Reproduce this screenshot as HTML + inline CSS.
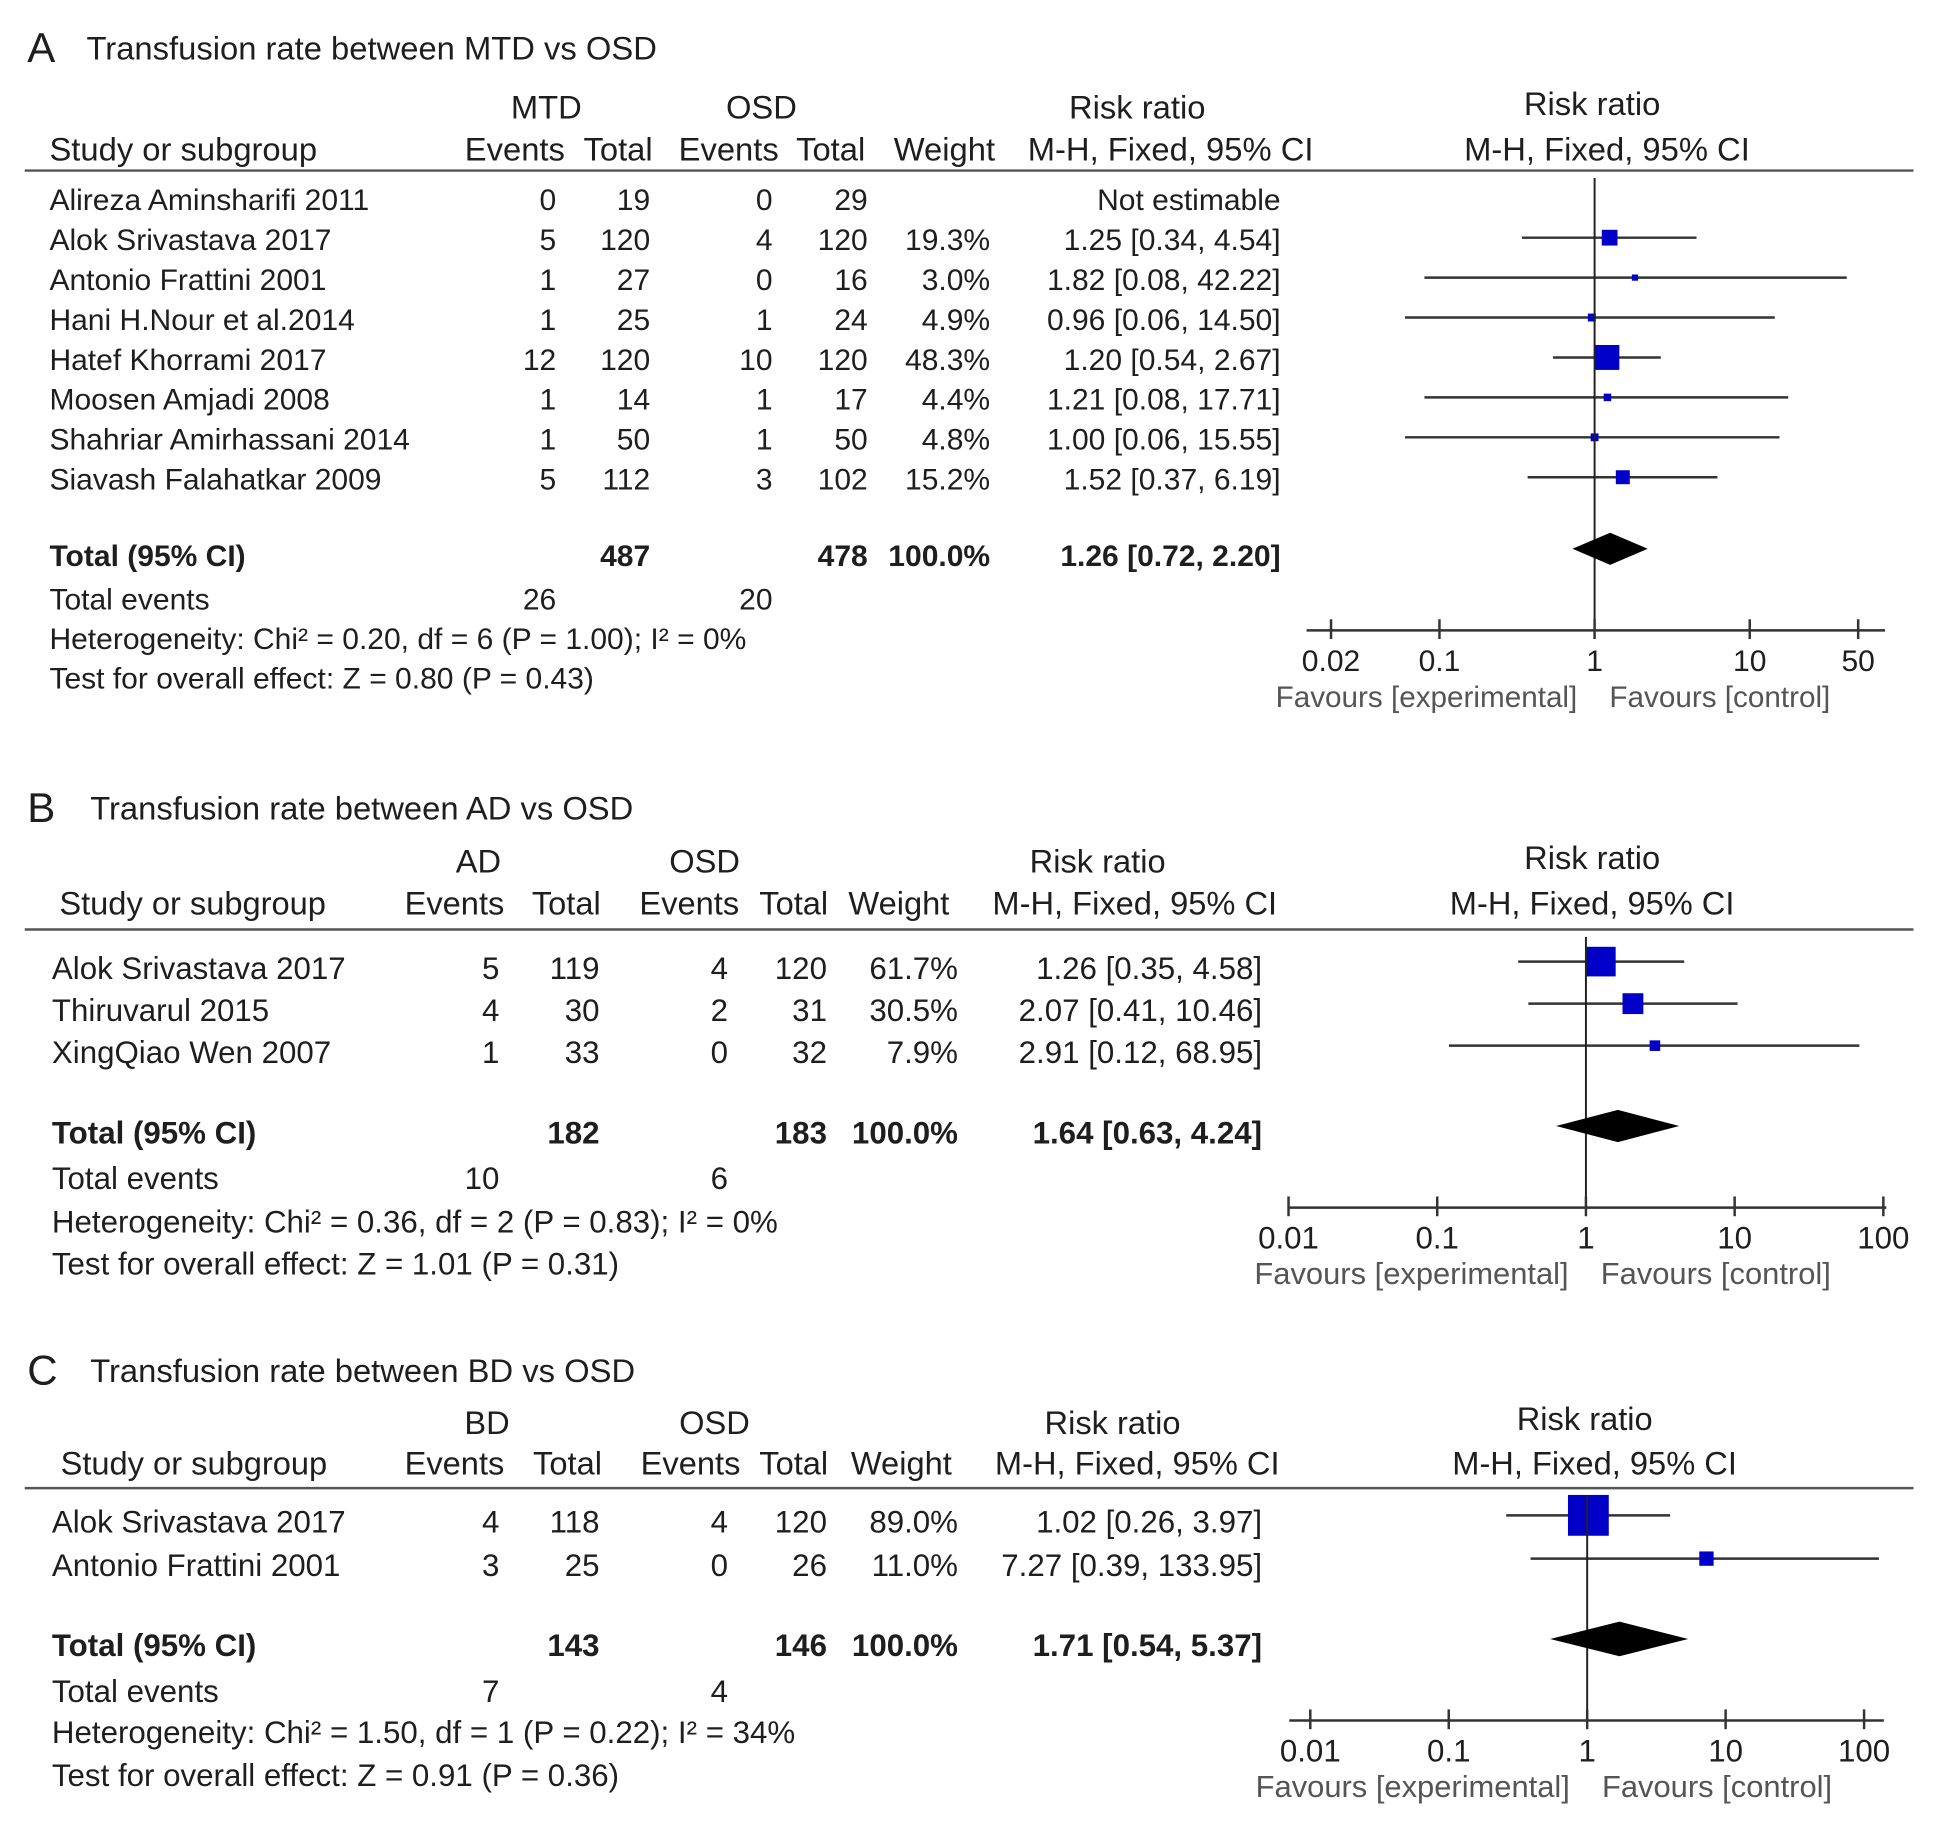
<!DOCTYPE html>
<html><head><meta charset="utf-8"><style>
html,body{margin:0;padding:0;background:#fff;}
svg{display:block;font-family:"Liberation Sans",Arial,sans-serif;}
</style></head><body>
<svg id="fig" xmlns="http://www.w3.org/2000/svg" width="1937" height="1833" viewBox="0 0 1567 1483" preserveAspectRatio="none"></svg>
<script>
// ---- Panel A data ----
const namesA = ["Alireza Aminsharifi 2011","Alok Srivastava 2017","Antonio Frattini 2001","Hani H.Nour et al.2014","Hatef Khorrami 2017","Moosen Amjadi 2008","Shahriar Amirhassani 2014","Siavash Falahatkar 2009"];
const evExpA = [0,5,1,1,12,1,1,5];
const totExpA = [19,120,27,25,120,14,50,112];
const evCtlA = [0,4,0,1,10,1,1,3];
const totCtlA = [29,120,16,24,120,17,50,102];
const weightA = [null,19.3,3.0,4.9,48.3,4.4,4.8,15.2];
const rrA = [null,1.25,1.82,0.96,1.20,1.21,1.00,1.52];
const loA = [null,0.34,0.08,0.06,0.54,0.08,0.06,0.37];
const hiA = [null,4.54,42.22,14.50,2.67,17.71,15.55,6.19];
const totalA = [487,478,1.26,0.72,2.20];
const totEventsA = [26,20];
const hetA = "Heterogeneity: Chi\u00b2 = 0.20, df = 6 (P = 1.00); I\u00b2 = 0%";
const testA = "Test for overall effect: Z = 0.80 (P = 0.43)";
const ticksA = [0.02,0.1,1,10,50];
// ---- Panel B data ----
const namesB = ["Alok Srivastava 2017","Thiruvarul 2015","XingQiao Wen 2007"];
const evExpB = [5,4,1];
const totExpB = [119,30,33];
const evCtlB = [4,2,0];
const totCtlB = [120,31,32];
const weightB = [61.7,30.5,7.9];
const rrB = [1.26,2.07,2.91];
const loB = [0.35,0.41,0.12];
const hiB = [4.58,10.46,68.95];
const totalB = [182,183,1.64,0.63,4.24];
const totEventsB = [10,6];
const hetB = "Heterogeneity: Chi\u00b2 = 0.36, df = 2 (P = 0.83); I\u00b2 = 0%";
const testB = "Test for overall effect: Z = 1.01 (P = 0.31)";
const ticksB = [0.01,0.1,1,10,100];
// ---- Panel C data ----
const namesC = ["Alok Srivastava 2017","Antonio Frattini 2001"];
const evExpC = [4,3];
const totExpC = [118,25];
const evCtlC = [4,0];
const totCtlC = [120,26];
const weightC = [89.0,11.0];
const rrC = [1.02,7.27];
const loC = [0.26,0.39];
const hiC = [3.97,133.95];
const totalC = [143,146,1.71,0.54,5.37];
const totEventsC = [7,4];
const hetC = "Heterogeneity: Chi\u00b2 = 1.50, df = 1 (P = 0.22); I\u00b2 = 34%";
const testC = "Test for overall effect: Z = 0.91 (P = 0.36)";
const ticksC = [0.01,0.1,1,10,100];

const NS="http://www.w3.org/2000/svg";
const svg=document.getElementById('fig');
const INK="#1e1e1e";
function mk(tag,attrs,parent){const e=document.createElementNS(NS,tag);for(const k in attrs)e.setAttribute(k,attrs[k]);(parent||svg).appendChild(e);return e;}
function txt(g,x,y,s,anchor,size,bold,fill){
  const t=mk('text',{x:x,y:y,'text-anchor':anchor||'start','font-size':size,fill:fill||INK},g);
  if(bold)t.setAttribute('font-weight','bold');
  t.textContent=s;return t;
}

function panel(L,D){
  const g=mk('g',{});
  
  
  let t=txt(g,L.letterX,L.titleY+2,L.letter,'start',34,false);
  
  t=txt(g,L.titleX,L.titleY,L.title,'start',26.5,false);
  
  const fs=L.fs, hf=L.hf;
  const h1=L.h1, h2=L.h2;
  txt(g,L.grpE,h1,L.expLabel,'middle',hf);
  txt(g,L.grpC,h1,'OSD','middle',hf);
  txt(g,L.rrHdr,h1,'Risk ratio','middle',hf);
  txt(g,L.rrHdr2,h1-3,'Risk ratio','middle',hf);
  txt(g,L.studyX,h2,'Study or subgroup','start',hf);
  txt(g,L.hEvE,h2,'Events','end',hf);
  txt(g,L.hTotE,h2,'Total','end',hf);
  txt(g,L.hEvC,h2,'Events','end',hf);
  txt(g,L.hTotC,h2,'Total','end',hf);
  txt(g,L.hW,h2,'Weight','end',hf);
  txt(g,L.hCI,h2,'M-H, Fixed, 95% CI','middle',hf);
  txt(g,L.hCI2,h2,'M-H, Fixed, 95% CI','middle',hf);
  const hl=mk('line',{x1:20,x2:1548,y1:L.line,y2:L.line,stroke:'#555','stroke-width':2},g);
  
  const X=v=>L.one+Math.log10(v)*L.dec;
  D.names.forEach((n,i)=>{
    const y=L.row0+i*L.step;
    const rg=mk('g',{},g);
    
    
    txt(rg,L.nameX,y,n,'start',fs);
    txt(rg,L.cEvE,y,String(D.evE[i]),'end',fs);
    txt(rg,L.cTotE,y,String(D.totE[i]),'end',fs);
    txt(rg,L.cEvC,y,String(D.evC[i]),'end',fs);
    txt(rg,L.cTotC,y,String(D.totC[i]),'end',fs);
    if(D.w[i]!=null)txt(rg,L.cW,y,D.w[i].toFixed(1)+'%','end',fs);
    const ciS=D.rr[i]==null?'Not estimable':D.rr[i].toFixed(2)+' ['+D.lo[i].toFixed(2)+', '+D.hi[i].toFixed(2)+']';
    txt(rg,L.cCI,y,ciS,'end',fs);
    if(D.rr[i]!=null){
      const my=y-L.markOff;
      const x1=Math.max(X(D.lo[i]),L.ax0), x2=Math.min(X(D.hi[i]),L.ax1-4);
      const ln=mk('line',{x1:x1,x2:x2,y1:my,y2:my,stroke:'#333','stroke-width':2},g);
      
      
      const s=Math.max(5,L.k*Math.sqrt(D.w[i]));
      const sq=mk('rect',{x:X(D.rr[i])-s/2,y:my-s/2,width:s,height:s,fill:'#0000c8'},g);
      
      
    }
  });
  const ty=L.totY;
  txt(g,L.nameX,ty,'Total (95% CI)','start',fs,true);
  txt(g,L.cTotE,ty,String(D.total[0]),'end',fs,true);
  txt(g,L.cTotC,ty,String(D.total[1]),'end',fs,true);
  txt(g,L.cW,ty,'100.0%','end',fs,true);
  txt(g,L.cCI,ty,D.total[2].toFixed(2)+' ['+D.total[3].toFixed(2)+', '+D.total[4].toFixed(2)+']','end',fs,true);
  txt(g,L.nameX,L.teY,'Total events','start',fs);
  txt(g,L.teE,L.teY,String(D.te[0]),'end',fs);
  txt(g,L.teC,L.teY,String(D.te[1]),'end',fs);
  txt(g,L.nameX,L.hetY,D.het,'start',fs);
  txt(g,L.nameX,L.testY,D.test,'start',fs);
  const vl=mk('line',{x1:L.one,x2:L.one,y1:L.line+6,y2:L.axY,stroke:'#222','stroke-width':1.6},g);
  
  const dy=L.totY-14;
  const dm=mk('polygon',{points:[X(D.total[3])+','+dy,X(D.total[2])+','+(dy-L.dh),X(D.total[4])+','+dy,X(D.total[2])+','+(dy+L.dh)].join(' '),fill:'#000'},g);
  
  const ax=mk('line',{x1:L.ax0,x2:L.ax1,y1:L.axY,y2:L.axY,stroke:'#333','stroke-width':2},g);
  
  D.ticks.forEach(v=>{
    const tk=mk('line',{x1:X(v),x2:X(v),y1:L.axY-9,y2:L.axY+7,stroke:'#333','stroke-width':2},g);
    
    const tl=txt(g,X(v),L.axY+33,String(v),'middle',fs);
    
  });
  let f=txt(g,L.one-14,L.axY+62,'Favours [experimental]','end',L.ff,false,'#555');
  
  f=txt(g,L.one+12,L.axY+62,'Favours [control]','start',L.ff,false,'#555');
  
}

panel({id:'a',letter:'A',letterX:22,titleX:70,titleY:48,title:'Transfusion rate between MTD vs OSD',fs:24.3,hf:26.5,ff:24,
  h1:96,h2:130,expLabel:'MTD',grpE:442,grpC:616,rrHdr:920,rrHdr2:1288,studyX:40,hEvE:457,hTotE:528,hEvC:630,hTotC:700,hW:805,hCI:947,hCI2:1300,
  line:138,nameX:40,cEvE:450,cTotE:526,cEvC:625,cTotC:702,cW:801,cCI:1036,row0:170,step:32.3,markOff:10,k:2.9,
  totY:458,teY:493,teE:450,teC:625,hetY:525,testY:557,one:1290,dec:125.5,ax0:1057,ax1:1525,axY:510,dh:13},
 {names:namesA,evE:evExpA,totE:totExpA,evC:evCtlA,totC:totCtlA,w:weightA,rr:rrA,lo:loA,hi:hiA,total:totalA,te:totEventsA,het:hetA,test:testA,ticks:ticksA});

panel({id:'b',letter:'B',letterX:22,titleX:73,titleY:663,title:'Transfusion rate between AD vs OSD',fs:25.3,hf:26.4,ff:25,
  h1:706,h2:740,expLabel:'AD',grpE:387,grpC:570,rrHdr:888,rrHdr2:1288,studyX:48,hEvE:408,hTotE:486,hEvC:598,hTotC:670,hW:768,hCI:918,hCI2:1288,
  line:752,nameX:42,cEvE:404,cTotE:485,cEvC:589,cTotC:669,cW:775,cCI:1021,row0:792,step:34,markOff:14,k:3.05,
  totY:925,teY:962,teE:404,teC:589,hetY:997,testY:1031,one:1283,dec:120.3,ax0:1043,ax1:1526,axY:977,dh:13},
 {names:namesB,evE:evExpB,totE:totExpB,evC:evCtlB,totC:totCtlB,w:weightB,rr:rrB,lo:loB,hi:hiB,total:totalB,te:totEventsB,het:hetB,test:testB,ticks:ticksB});

panel({id:'c',letter:'C',letterX:22,titleX:73,titleY:1118,title:'Transfusion rate between BD vs OSD',fs:25.3,hf:26.4,ff:25,
  h1:1160,h2:1193,expLabel:'BD',grpE:394,grpC:578,rrHdr:900,rrHdr2:1282,studyX:49,hEvE:408,hTotE:487,hEvC:599,hTotC:670,hW:770,hCI:920,hCI2:1290,
  line:1204,nameX:42,cEvE:404,cTotE:485,cEvC:589,cTotC:669,cW:775,cCI:1021,row0:1240,step:35,markOff:14,k:3.5,
  totY:1340,teY:1377,teE:404,teC:589,hetY:1410,testY:1445,one:1284,dec:112,ax0:1043,ax1:1524,axY:1392,dh:14},
 {names:namesC,evE:evExpC,totE:totExpC,evC:evCtlC,totC:totCtlC,w:weightC,rr:rrC,lo:loC,hi:hiC,total:totalC,te:totEventsC,het:hetC,test:testC,ticks:ticksC});
</script>
</body></html>
